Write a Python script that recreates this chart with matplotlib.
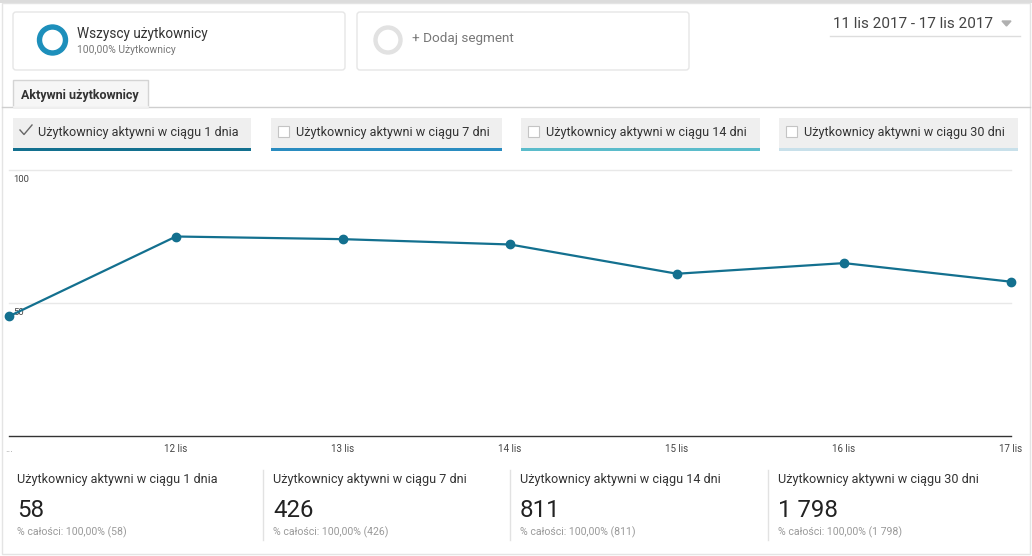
import matplotlib.pyplot as plt
from matplotlib.patches import FancyBboxPatch, Rectangle, Wedge, Polygon

days = ['11 lis', '12 lis', '13 lis', '14 lis', '15 lis', '16 lis', '17 lis']
tick_labels = ['...', '12 lis', '13 lis', '14 lis', '15 lis', '16 lis', '17 lis']
active_1d = [45, 75, 74, 72, 61, 65, 58]
y_ticks = [50, 100]

metric_names = ['Użytkownicy aktywni w ciągu 1 dnia', 'Użytkownicy aktywni w ciągu 7 dni',
                'Użytkownicy aktywni w ciągu 14 dni', 'Użytkownicy aktywni w ciągu 30 dni']
metric_totals = ['58', '426', '811', '1 798']
metric_colors = ['#13708f', '#2a8cc0', '#5bbccb', '#c8e0ea']
metric_checked = [True, False, False, False]

segment_name = 'Wszyscy użytkownicy'
segment_share = '100,00% Użytkownicy'
add_segment = '+ Dodaj segment'
date_range = '11 lis 2017 - 17 lis 2017'
tab_name = 'Aktywni użytkownicy'

plt.rcParams['font.family'] = ['Roboto', 'DejaVu Sans']

W, H = 1032, 556
fig = plt.figure(figsize=(W / 100, H / 100), dpi=100)

# pixel-space layer for the page furniture
ui = fig.add_axes([0, 0, 1, 1])
ui.set_xlim(0, W)
ui.set_ylim(H, 0)
ui.axis('off')

ui.add_patch(Rectangle((0, 0), W, 3, color='#dcdcdc', lw=0))
ui.add_patch(Rectangle((2, 3), W - 4, 551, fill=False, ec='#e4e4e4', lw=1))

# segment boxes
for x0 in [13, 357]:
    ui.add_patch(FancyBboxPatch((x0, 12), 332, 58, boxstyle='round,pad=0,rounding_size=3',
                                fc='white', ec='#e6e6e6', lw=1))
ui.add_patch(Wedge((52.5, 40), 15, 0, 360, width=4, color='#1d8fbb'))
ui.text(77, 38, segment_name, fontsize=9.8, color='#333333')
ui.text(77, 53, segment_share, fontsize=7.4, color='#777777')
ui.add_patch(Wedge((388, 40), 14, 0, 360, width=3, color='#e2e2e2'))
ui.text(412, 42, add_segment, fontsize=9.7, color='#777777')

# date range picker
ui.text(833, 28, date_range, fontsize=11, color='#444444')
ui.add_patch(Polygon([(1002, 21), (1011, 21), (1006.5, 26)], color='#b0b0b0'))
ui.plot([830, 1020], [36, 36], color='#dddddd', lw=1)

# tab
ui.plot([2, 1030], [106.5, 106.5], color='#cfcfcf', lw=1)
ui.add_patch(Rectangle((13, 80), 135, 27, fc='#f6f6f6', ec='#d4d4d4', lw=1))
ui.plot([13.5, 147.5], [106.5, 106.5], color='#f6f6f6', lw=1.2)
ui.text(21, 99, tab_name, fontsize=9, fontweight='bold', color='#333333')

# metric selector buttons
btn_x = [13, 271, 521, 779]
btn_w = [238, 231, 239, 239]
for x0, w, name, col, chk in zip(btn_x, btn_w, metric_names, metric_colors, metric_checked):
    ui.add_patch(Rectangle((x0, 118), w, 30, fc='#efefef', lw=0))
    ui.add_patch(Rectangle((x0, 147.5), w, 3.5, fc=col, lw=0))
    if chk:
        ui.plot([x0 + 7, x0 + 11, x0 + 19], [130, 134.5, 125], color='#666666', lw=1.0)
    else:
        ui.add_patch(Rectangle((x0 + 7, 125.5), 11, 11, fc='white', ec='#c4c4c4', lw=0.8))
    ui.text(x0 + 25, 136, name, fontsize=9.05, color='#333333')

# scorecards
card_x = [17, 273, 520, 778]
for x0, name, total in zip(card_x, metric_names, metric_totals):
    ui.text(x0, 483, name, fontsize=9.05, color='#333333')
    ui.text(x0, 517, total, fontsize=17.3, color='#222222')
    ui.text(x0, 535, '% całości: 100,00% (' + total + ')', fontsize=7.6, color='#9a9a9a')
for xs in [263, 510, 768]:
    ui.plot([xs, xs], [470, 540], color='#e2e2e2', lw=1)

# chart
left, right, top, bottom = 9, 1011, 170, 436
ax = fig.add_axes([left / W, (H - bottom) / H, (right - left) / W, (bottom - top) / H])
ax.patch.set_alpha(0)
x = list(range(len(days)))
ax.plot(x, active_1d, color=metric_colors[0], lw=1.6, marker='o', ms=6, clip_on=False, zorder=5)
ax.set_xlim(0, len(days) - 1)
ax.set_ylim(0, 100)
for t in y_ticks:
    ax.axhline(t, color='#e8e8e8', lw=1, zorder=0, clip_on=False)
    ax.annotate(str(t), (0, t), xytext=(3, -3.5), textcoords='offset points',
                ha='left', va='top', fontsize=6.8, color='#444444')
ax.set_yticks([])
ax.set_xticks(x)
ax.set_xticklabels(tick_labels, fontsize=7, color='#444444')
ax.get_xticklabels()[0].set_color('#999999')
ax.tick_params(axis='x', length=0, pad=6)
for s in ['top', 'left', 'right']:
    ax.spines[s].set_visible(False)
ax.spines['bottom'].set_color('#333333')
ax.spines['bottom'].set_linewidth(1)

fig.savefig('out.png', dpi=100)
